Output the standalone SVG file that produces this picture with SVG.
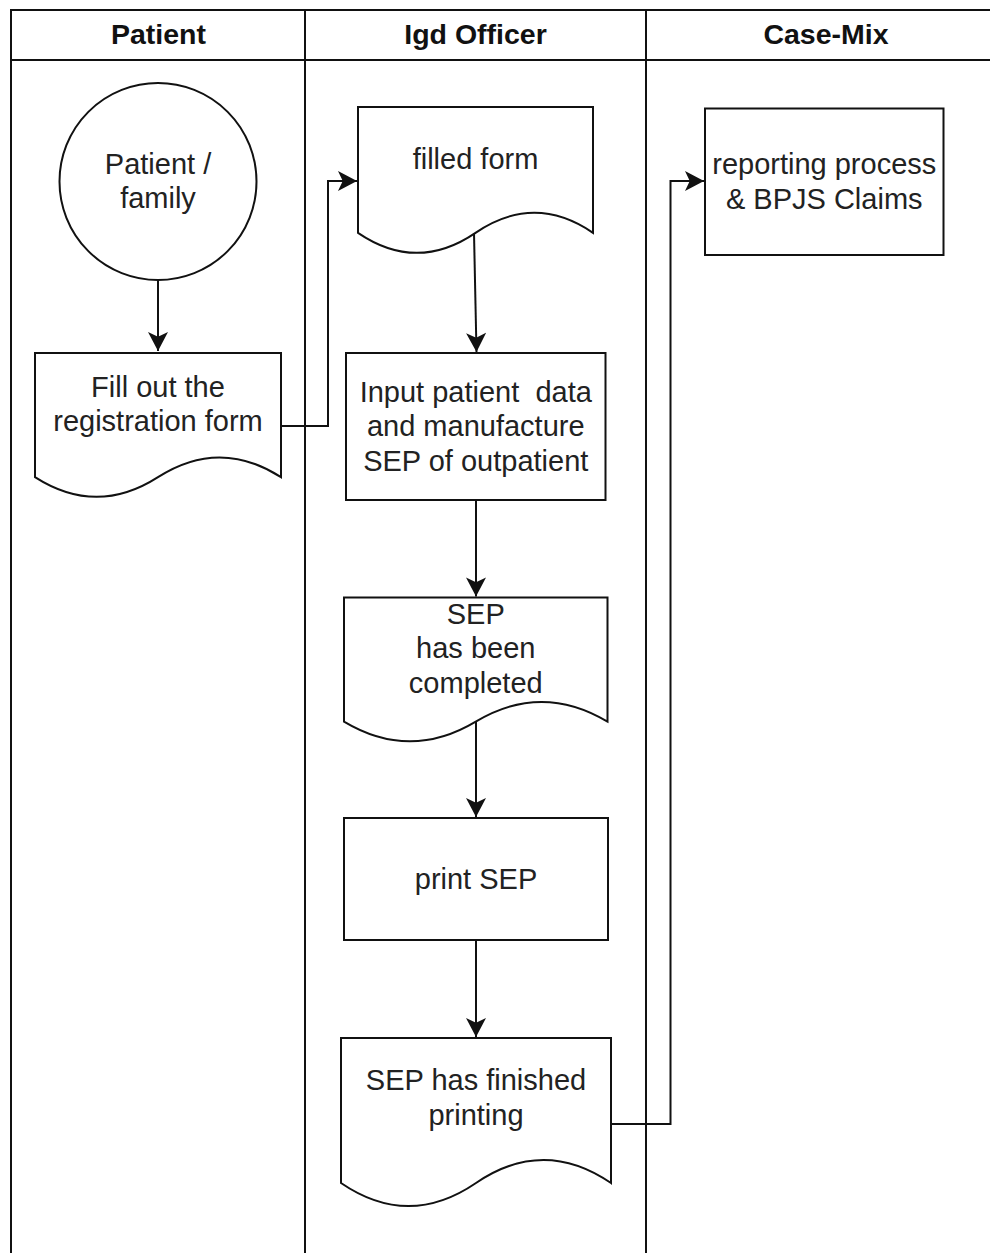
<svg xmlns="http://www.w3.org/2000/svg" width="990" height="1253" viewBox="0 0 990 1253">
<style>
.ln{fill:none;stroke:#111;stroke-width:2}
.shp{fill:#fff;stroke:#111;stroke-width:2}
.t{font-family:"Liberation Sans",Arial,sans-serif;font-size:29px;fill:#222;text-anchor:middle}
.h{font-family:"Liberation Sans",Arial,sans-serif;font-size:28.5px;font-weight:bold;fill:#111;text-anchor:middle}
</style>
<defs>
<marker id="arr" markerUnits="userSpaceOnUse" markerWidth="20" markerHeight="20" viewBox="0 0 19 20" refX="19" refY="10" orient="auto">
<path d="M0,0 L19,10 L0,20 L4.75,10 Z" fill="#111"/>
</marker>
</defs>
<rect width="990" height="1253" fill="#fff"/>
<g id="pool">
<path class="ln" d="M11,1253 L11,10 L1000,10 M11,60 L1000,60 M305,10 L305,1253 M646,10 L646,1253"/>
<text class="h" x="158.5" y="44">Patient</text>
<text class="h" x="475.5" y="44">Igd Officer</text>
<text class="h" x="826" y="44">Case-Mix</text>
</g>
<g id="connectors">
<path class="ln" d="M158,280 L158,351" marker-end="url(#arr)"/>
<path class="ln" d="M281,426 L328,426 L328,181 L357,181" marker-end="url(#arr)"/>
<path class="ln" d="M474,233 L476.5,352" marker-end="url(#arr)"/>
<path class="ln" d="M476,500 L476,596.5" marker-end="url(#arr)"/>
<path class="ln" d="M476,721.6 L476,817" marker-end="url(#arr)"/>
<path class="ln" d="M476,940 L476,1037" marker-end="url(#arr)"/>
<path class="ln" d="M611,1124 L670.5,1124 L670.5,181 L704,181" marker-end="url(#arr)"/>
</g>
<g id="patient-family">
<circle class="shp" cx="158" cy="181.5" r="98.5"/>
<text class="t" x="158" y="173.5">Patient /</text>
<text class="t" x="158" y="208.3">family</text>
</g>
<g id="fill-form">
<path class="shp" d="M35,353 L281,353 L281,477.1 Q219.5,437.7 158,477.1 Q96.5,516.5 35,477.1 Z"/>
<text class="t" x="158" y="396.6">Fill out the</text>
<text class="t" x="158" y="431.4">registration form</text>
</g>
<g id="filled-form">
<path class="shp" d="M358,107 L593,107 L593,232.8 Q534.25,192.8 475.5,232.8 Q416.75,272.8 358,232.8 Z"/>
<text class="t" x="475.5" y="168.6">filled form</text>
</g>
<g id="input-data">
<rect class="shp" x="346" y="353" width="259.5" height="147"/>
<text class="t" x="475.75" y="401.5" xml:space="preserve">Input patient  data</text>
<text class="t" x="475.75" y="436.3">and manufacture</text>
<text class="t" x="475.75" y="471.1">SEP of outpatient</text>
</g>
<g id="sep-completed">
<path class="shp" d="M344,597.5 L607.5,597.5 L607.5,721.6 Q541.6,682.2 475.75,721.6 Q409.9,761 344,721.6 Z"/>
<text class="t" x="475.75" y="623.5">SEP</text>
<text class="t" x="475.75" y="658.3">has been</text>
<text class="t" x="475.75" y="693.1">completed</text>
</g>
<g id="print-sep">
<rect class="shp" x="344" y="818" width="264" height="122"/>
<text class="t" x="476" y="889">print SEP</text>
</g>
<g id="sep-finished">
<path class="shp" d="M341,1038 L611,1038 L611,1183 Q543.5,1136.9 476,1183 Q408.5,1229.1 341,1183 Z"/>
<text class="t" x="476" y="1090.3">SEP has finished</text>
<text class="t" x="476" y="1125.1">printing</text>
</g>
<g id="reporting">
<rect class="shp" x="705" y="108.5" width="238.5" height="146.5"/>
<text class="t" x="824.25" y="174.2">reporting process</text>
<text class="t" x="824.25" y="209">&amp; BPJS Claims</text>
</g>
</svg>
